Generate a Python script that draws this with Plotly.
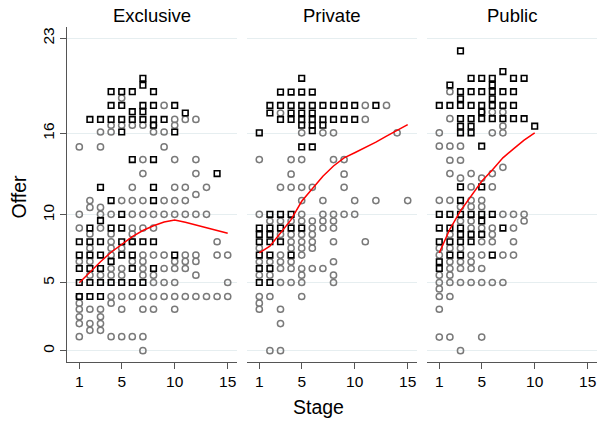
import plotly.graph_objects as go

PANELS = ["Exclusive", "Private", "Public"]
STAGE_TICKS = [1, 5, 10, 15]
OFFER_TICKS = [0, 5, 10, 16, 23]

# offer level -> list of stages  (gray hollow circles)
EXC_CIRCLES = {
    18.6: [5], 18.06: [9], 17.03: [10, 11, 12], 16.6: [4, 5, 6, 7, 8, 10],
    16.1: [3, 4, 8, 9], 15.0: [1, 3, 9], 14.07: [7, 10, 12], 13.04: [7, 12],
    12.03: [6, 10, 11, 13], 11.5: [12], 11.05: [2, 5, 6, 7, 9, 10, 11],
    10.55: [2, 3], 10.04: [1, 3, 4, 6, 7, 8, 9, 10, 11, 12, 13],
    9.03: [1, 3, 6, 7, 8], 8.6: [2, 4, 6], 8.02: [4, 6, 14], 7.55: [2, 4, 5],
    7.04: [4, 7, 8, 9, 11, 12, 14, 15], 6.57: [1, 2, 6, 7, 10, 11, 12],
    6.05: [4, 5, 7, 9, 10, 11], 5.56: [2, 3, 4, 5, 7, 8, 12],
    5.02: [8, 9, 10, 15], 3.99: [1, 4, 5, 6, 7, 8, 9, 10, 11, 12, 13, 14, 15],
    3.5: [1, 4], 3.05: [1, 2, 3, 5, 7, 8, 10], 2.5: [1, 3], 2.0: [1, 2, 3],
    1.5: [2, 3], 1.03: [1, 4, 5, 6, 7], 0.0: [7],
}
# offer level -> list of stages  (black hollow squares)
EXC_SQUARES = {
    20.05: [7], 19.55: [7], 19.07: [4, 5, 6, 8], 18.06: [4, 5, 7, 8, 10],
    17.6: [6, 7], 17.5: [11], 17.03: [2, 3, 4, 5, 6, 7, 8, 9], 16.6: [8],
    16.1: [5, 10], 14.07: [6, 8], 13.04: [14], 12.03: [3, 8], 11.05: [4, 8],
    10.04: [5], 9.57: [3], 9.03: [2, 4, 5], 8.02: [1, 2, 3, 5, 6, 7, 8],
    7.04: [1, 2, 3, 5, 6, 10], 6.57: [4], 6.05: [1, 2, 3, 6, 8],
    5.02: [1, 2, 3, 4, 5, 6, 7], 3.99: [1, 2, 3],
}
PRI_CIRCLES = {
    18.06: [11, 13], 17.5: [3], 17.03: [11], 16.04: [5, 7, 8, 14],
    14.07: [1, 4, 5, 8, 9], 13.0: [4, 9], 12.03: [3, 4, 5, 6, 9],
    11.05: [5, 7, 10, 12, 15], 10.04: [1, 5, 7, 8, 9, 10],
    9.55: [2, 3, 4, 5, 6, 7, 8], 9.03: [6, 7, 8], 8.56: [3, 4, 5, 6],
    8.02: [4, 5, 6, 8, 11], 7.55: [1, 4, 5, 6], 7.04: [3, 5],
    6.55: [1, 2, 3, 4, 8], 6.05: [3, 4, 5, 6, 7], 5.56: [1, 2, 5, 8],
    5.02: [3, 4, 5, 8], 3.99: [1, 2, 5], 3.5: [1], 3.05: [1, 3], 2.0: [3],
    0.0: [2, 3],
}
PRI_SQUARES = {
    20.05: [5], 19.04: [3, 4, 5, 6], 18.06: [2, 3, 4, 5, 6, 7, 8, 9, 10, 12],
    17.5: [2, 4, 5, 6], 17.03: [3, 4, 5, 6, 7, 8, 9, 10], 16.6: [5, 6, 7],
    16.2: [6], 16.04: [1], 15.0: [5, 6], 10.04: [2, 3, 4],
    9.03: [1, 2, 3, 4, 5], 8.56: [1, 2], 8.02: [1, 2, 3], 7.04: [1, 2, 4],
    6.05: [1, 2], 5.02: [1, 2],
}
PUB_CIRCLES = {
    19.07: [2], 17.57: [5, 6, 7], 17.08: [2], 16.53: [7], 16.04: [1, 6, 7],
    15.06: [1, 2, 3], 14.02: [2, 3], 13.5: [7], 13.04: [2, 4, 6],
    12.7: [3, 5], 12.06: [4, 6], 11.07: [1, 2, 4, 5], 10.6: [3, 4, 5],
    10.04: [7, 8, 9], 9.55: [3, 4, 9], 9.03: [4, 5, 6, 8], 8.56: [2, 6],
    8.02: [5, 6, 8], 7.55: [1, 2, 3], 7.04: [1, 4, 5, 7, 8], 6.55: [2, 3, 4],
    6.05: [2, 3, 4, 5], 5.56: [1, 2], 5.02: [1, 2, 3, 4, 5, 6, 7],
    4.55: [1], 3.99: [1, 2], 3.05: [1], 1.0: [1, 2, 5], 0.0: [3],
}
PUB_SQUARES = {
    22.07: [3], 20.55: [7], 20.05: [4, 5, 6, 8, 9], 19.56: [2, 6],
    19.07: [3, 4, 5, 6, 7, 8], 18.55: [3, 6], 18.06: [1, 2, 3, 4, 5, 6, 7, 8],
    17.57: [5], 17.08: [3, 4, 5, 6, 7, 8, 9], 16.53: [3, 4, 10], 16.04: [3, 4],
    15.06: [5], 12.06: [3, 5], 11.07: [3], 10.04: [1, 2, 3, 4, 5, 6],
    9.55: [5], 9.03: [1, 2, 3, 7], 8.56: [3, 4, 5], 8.02: [1, 2, 3, 4],
    7.04: [2, 3, 6], 6.55: [1], 6.05: [1],
}

# smoothed fit lines
EXC_FIT_STAGE = [1, 2, 3, 4, 5, 6, 7, 8, 9, 10, 11, 12, 13, 14, 15]
EXC_FIT_OFFER = [5.0, 5.8, 6.55, 7.25, 7.85, 8.4, 8.85, 9.2, 9.48, 9.62, 9.45, 9.27, 9.05, 8.85, 8.65]
PRI_FIT_STAGE = [1, 2, 3, 4, 5, 6, 7, 8, 9, 10, 11, 12, 13, 14, 15]
PRI_FIT_OFFER = [7.2, 7.7, 8.66, 9.65, 11.0, 11.9, 12.85, 13.6, 14.2, 14.57, 14.93, 15.35, 15.8, 16.2, 16.65]
PUB_FIT_STAGE = [1, 2, 3, 4, 5, 6, 7, 8, 9, 10]
PUB_FIT_OFFER = [7.2, 8.96, 10.3, 11.4, 12.47, 13.3, 14.2, 14.86, 15.5, 16.04]

W, H = 597, 421


def expand(rows):
    xs, ys = [], []
    for offer, stages in rows.items():
        for s in stages:
            xs.append(s)
            ys.append(offer)
    return xs, ys


data = [
    (EXC_CIRCLES, EXC_SQUARES, EXC_FIT_STAGE, EXC_FIT_OFFER),
    (PRI_CIRCLES, PRI_SQUARES, PRI_FIT_STAGE, PRI_FIT_OFFER),
    (PUB_CIRCLES, PUB_SQUARES, PUB_FIT_STAGE, PUB_FIT_OFFER),
]

fig = go.Figure()
for i, (circ, sq, fs, fo) in enumerate(data):
    xa = "x" if i == 0 else f"x{i+1}"
    ya = "y" if i == 0 else f"y{i+1}"
    cx, cy = expand(circ)
    sx, sy = expand(sq)
    fig.add_trace(go.Scatter(x=cx, y=cy, mode="markers", xaxis=xa, yaxis=ya,
                             marker=dict(symbol="circle-open", size=6.2, color="#7a7a7a",
                                         line=dict(width=1.5, color="#7a7a7a")),
                             showlegend=False, hoverinfo="skip"))
    fig.add_trace(go.Scatter(x=sx, y=sy, mode="markers", xaxis=xa, yaxis=ya,
                             marker=dict(symbol="square-open", size=5.6, color="#000000",
                                         line=dict(width=1.6, color="#000000")),
                             showlegend=False, hoverinfo="skip"))
    fig.add_trace(go.Scatter(x=fs, y=fo, mode="lines", xaxis=xa, yaxis=ya,
                             line=dict(color="#ff0000", width=1.5),
                             showlegend=False, hoverinfo="skip"))

# pixel geometry
y_bot, y_top = 361.7, 27.3
ydom = [1 - y_bot / H, 1 - y_top / H]
px_per_stage = 10.6
x_left = [67.3, 247.3, 427.3]
x_right = [237.3, 417.3, 597.0]
yrange = [-0.81, 23.81]

font = "Liberation Sans, Arial, Helvetica, sans-serif"
layout = dict(
    width=W, height=H,
    margin=dict(l=0, r=0, t=0, b=0),
    paper_bgcolor="white", plot_bgcolor="white",
    font=dict(family=font, size=15.5, color="#000000"),
    showlegend=False,
)
for i in range(3):
    xl, xr = x_left[i], x_right[i]
    x0 = 1 - (79.3 - 67.3) / px_per_stage
    x1 = x0 + (xr - xl) / px_per_stage
    key = "" if i == 0 else str(i + 1)
    layout["xaxis" + key] = dict(
        domain=[xl / W, xr / W], range=[x0, x1], anchor="y" + key,
        tickmode="array", tickvals=STAGE_TICKS, ticktext=[str(t) for t in STAGE_TICKS],
        ticks="outside", ticklen=6, tickwidth=1, tickcolor="#555555",
        showline=True, linecolor="#555555", linewidth=1,
        showgrid=False, zeroline=False,
        tickfont=dict(size=15.5, family=font, color="#000000"),
    )
    layout["yaxis" + key] = dict(
        domain=ydom, range=yrange, anchor="x" + key,
        tickmode="array", tickvals=OFFER_TICKS, ticktext=[str(t) for t in OFFER_TICKS],
        showgrid=True, gridcolor="#e6eef0", gridwidth=1, zeroline=False,
        ticks="outside" if i == 0 else "", ticklen=6, tickwidth=1, tickcolor="#555555",
        showline=(i == 0), linecolor="#555555", linewidth=1,
        showticklabels=(i == 0), tickangle=-90,
        tickfont=dict(size=15.5, family=font, color="#000000"),
    )
fig.update_layout(**layout)

annos = []
centers = [152.3, 332.3, 512.3]
for name, cx in zip(PANELS, centers):
    annos.append(dict(text=name, x=cx / W, y=1 - 15 / H, xref="paper", yref="paper",
                      xanchor="center", yanchor="middle", showarrow=False,
                      font=dict(size=18.5, family=font, color="#000000")))
annos.append(dict(text="Stage", x=318 / W, y=1 - 407 / H, xref="paper", yref="paper",
                  xanchor="center", yanchor="middle", showarrow=False,
                  font=dict(size=19.5, family=font, color="#000000")))
annos.append(dict(text="Offer", x=18 / W, y=1 - 197.5 / H, xref="paper", yref="paper",
                  xanchor="center", yanchor="middle", showarrow=False, textangle=-90,
                  font=dict(size=19.5, family=font, color="#000000")))
fig.update_layout(annotations=annos)

fig.write_html("out.html",
               config={"displayModeBar": False},
               post_script="document.body.style.margin='0';document.body.style.padding='0';"
                           "document.body.style.overflow='hidden';")
